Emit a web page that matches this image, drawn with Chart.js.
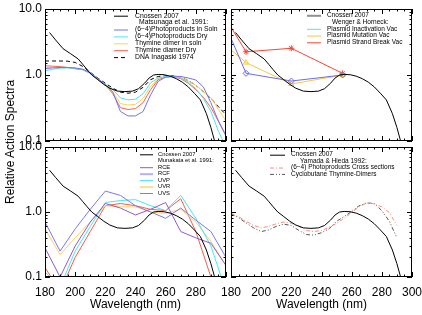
<!DOCTYPE html>
<html lang="en">
<head>
<meta charset="UTF-8">
<title>Relative Action Spectra</title>
<script src="https://cdn.jsdelivr.net/npm/chart.js@4.4.0/dist/chart.umd.min.js"></script>
<style>
  * { margin: 0; padding: 0; box-sizing: border-box; }
  body { width: 422px; height: 315px; background: #fff; position: relative; overflow: hidden;
         font-family: 'Liberation Sans', Arial, Helvetica, sans-serif; }
  canvas { position: absolute; left: 0; top: 0; }
  .title { position: absolute; font-size: 12px; line-height: 12px; color: #000; white-space: nowrap; }
  .xt { top: 298px; width: 181px; text-align: center; }
  .yt { left: 10px; top: 142px; transform: translate(-50%, -50%) rotate(-90deg); }
</style>
</head>
<body>
<canvas id="tl" width="422" height="315"></canvas>
<canvas id="tr" width="422" height="315"></canvas>
<canvas id="bl" width="422" height="315"></canvas>
<canvas id="br" width="422" height="315"></canvas>
<div class="title yt">Relative Action Spectra</div>
<div class="title xt" style="left:45px">Wavelength (nm)</div>
<div class="title xt" style="left:231px">Wavelength (nm)</div>

<script>
// axes
const xTickValues = [180, 200, 220, 240, 260, 280, 300];
const yTickValues = [0.1, 1, 10];
const yTickText = ['0.1', '1.0', '10.0'];

// Cnossen 2007 (in every panel)
const cnossenNm  = [183, 187, 192, 197, 202, 205, 208, 211, 215, 219, 223, 228, 233, 238, 242, 246, 249, 252, 255, 259, 263, 267, 271, 275, 279, 283, 287, 290, 293];
const cnossenVal = [4.4, 3.4, 2.5, 2.1, 1.75, 1.45, 1.2, 1.0, 0.85, 0.72, 0.63, 0.57, 0.56, 0.57, 0.62, 0.75, 0.9, 1.0, 1.02, 1.01, 0.96, 0.88, 0.78, 0.66, 0.53, 0.42, 0.26, 0.16, 0.09];

// Matsunaga et al. 1991 + DNA Inagaski 1974
const matsunagaNm = [180, 185, 190, 195, 200, 205, 210, 215, 220, 225, 230, 235, 240, 245, 250, 255, 260, 265, 270, 275, 280, 285, 290, 295, 300];
const pp64Soln    = [1.25, 1.28, 1.3, 1.3, 1.28, 1.22, 1.08, 0.88, 0.72, 0.55, 0.28, 0.24, 0.24, 0.28, 0.5, 0.8, 0.93, 0.96, 0.95, 0.9, 0.84, 0.66, 0.38, 0.2, 0.12];
const pp64Dry     = [1.16, 1.22, 1.27, 1.28, 1.27, 1.22, 1.08, 0.88, 0.72, 0.6, 0.45, 0.42, 0.43, 0.52, 0.76, 0.9, 0.95, 0.95, 0.9, 0.78, 0.62, 0.44, 0.28, 0.14, 0.08];
const thySoln     = [1.3, 1.3, 1.3, 1.3, 1.27, 1.22, 1.08, 0.88, 0.7, 0.55, 0.37, 0.35, 0.36, 0.44, 0.67, 0.88, 0.95, 0.95, 0.92, 0.82, 0.7, 0.56, 0.45, 0.3, 0.2];
const thyDry      = [1.38, 1.36, 1.34, 1.3, 1.24, 1.2, 1.06, 0.86, 0.7, 0.52, 0.32, 0.3, 0.31, 0.38, 0.6, 0.85, 0.93, 0.94, 0.88, 0.75, 0.6, 0.46, 0.32, 0.2, 0.12];
const dnaInagaki  = [1.63, 1.63, 1.63, 1.62, 1.55, 1.35, 1.1, 0.9, 0.75, 0.63, 0.55, 0.53, 0.55, 0.65, 0.85, 0.95, 0.97, 0.97, 0.93, 0.82, 0.7, 0.56, 0.44, 0.33, 0.25];

// Wenger & Horneck
const wengerNm     = [180, 190, 220, 254];
const plasInact    = [3.6, 1.06, 0.81, 1.0];
const plasMutation = [2.4, 1.54, 0.73, 1.0];
const plasStrand   = [5.3, 2.25, 2.54, 1.06];

// Munakata et al. 1991
const munakataNm = [180, 190, 200, 210, 220, 230, 240, 250, 260, 270, 280, 290, 300];
const rce = [0.28, 0.1, 0.3, 0.7, 1.35, 1.15, 0.9, 1.1, 1.4, 0.5, 0.4, 0.33, 0.15];
const rcf = [0.7, 0.25, 0.55, 1.1, 2.1, 1.8, 1.25, 1.0, 0.8, 1.15, 0.75, 0.5, 0.2];
const uvp = [0.12, 0.07, 0.25, 0.6, 1.4, 1.5, 1.55, 1.25, 1.05, 1.8, 0.8, 0.3, 0.06];
const uvr = [0.55, 0.22, 0.4, 0.7, 1.25, 1.2, 1.2, 1.0, 0.95, 1.1, 0.7, 0.35, 0.15];
const uvs = [0.14, 0.06, 0.2, 0.5, 1.25, 1.35, 1.25, 1.1, 1.05, 1.6, 0.5, 0.1, 0.03];

// Yamada & Hieda 1992
const yamadaNm    = [180, 185, 190, 195, 200, 205, 210, 215, 220, 225, 230, 235, 240, 245, 250, 255, 260, 265, 270, 275, 280, 285, 290];
const pp64Cross   = [0.95, 0.85, 0.72, 0.62, 0.57, 0.6, 0.66, 0.7, 0.67, 0.6, 0.52, 0.5, 0.52, 0.58, 0.67, 0.8, 0.98, 1.2, 1.38, 1.33, 1.2, 0.98, 0.62];
const cpdDimers   = [0.95, 0.82, 0.68, 0.57, 0.5, 0.53, 0.6, 0.65, 0.62, 0.52, 0.45, 0.44, 0.48, 0.55, 0.72, 0.85, 1.02, 1.25, 1.38, 1.35, 1.05, 0.72, 0.4];

const pts = (xs, ys) => xs.map((x, i) => ({ x, y: ys[i] }));
const FONT = "'Liberation Sans', Arial, Helvetica, sans-serif";

function line(label, xs, ys, color, extra) {
  return Object.assign({
    label, data: pts(xs, ys), borderColor: color, backgroundColor: color,
    borderWidth: 1, pointRadius: 0, tension: 0, fill: false
  }, extra || {});
}
const cnossen = (extra) => line('Cnossen 2007', cnossenNm, cnossenVal, '#000', extra);

// frame, inward ticks and the small legend
const panelDeco = {
  id: 'panelDeco',
  afterDatasetsDraw(chart, args, opts) {
    const { ctx, chartArea: a, scales: { x, y } } = chart;
    ctx.save();
    ctx.strokeStyle = '#000';
    ctx.lineWidth = 1;
    ctx.strokeRect(a.left + 0.5, a.top + 0.5, a.right - a.left - 1, a.bottom - a.top - 1);
    ctx.beginPath();
    for (let v = x.min; v <= x.max; v += 5) {
      const px = Math.round(x.getPixelForValue(v)) + 0.5;
      const len = (v % 20 === 0) ? 5 : 2.5;
      ctx.moveTo(px, a.bottom); ctx.lineTo(px, a.bottom - len);
      ctx.moveTo(px, a.top); ctx.lineTo(px, a.top + len);
    }
    y.ticks.forEach(t => {
      const py = Math.round(y.getPixelForValue(t.value)) + 0.5;
      const major = yTickValues.some(d => Math.abs(d - t.value) / d < 1e-6);
      const len = major ? 5 : 2.5;
      ctx.moveTo(a.left, py); ctx.lineTo(a.left + len, py);
      ctx.moveTo(a.right, py); ctx.lineTo(a.right - len, py);
    });
    ctx.stroke();

    // legend
    const ds = chart.data.datasets;
    const rows = [ds[0], { header: opts.header }].concat(ds.slice(1));
    ctx.font = opts.fontSize + 'px ' + FONT;
    ctx.textBaseline = 'middle';
    ctx.fillStyle = '#000';
    rows.forEach((r, i) => {
      const ry = opts.y + i * opts.step;
      if (r.header) {
        ctx.fillText(r.header, opts.textX + opts.indent, ry);
        return;
      }
      ctx.beginPath();
      ctx.strokeStyle = r.legendColor || r.borderColor;
      ctx.lineWidth = r.legendWidth || 1;
      ctx.setLineDash(r.borderDash || []);
      ctx.moveTo(opts.lineX, ry + 0.5);
      ctx.lineTo(opts.lineX + opts.lineLen, ry + 0.5);
      ctx.stroke();
      ctx.setLineDash([]);
      ctx.fillText(r.label, opts.textX, ry);
    });
    ctx.restore();
  }
};

// rect = [left, top, right, bottom] of the plot area in page pixels
function panel(id, rect, datasets, showX, showY, legend) {
  new Chart(document.getElementById(id), {
    type: 'line',
    data: { datasets },
    plugins: [panelDeco],
    options: {
      responsive: false,
      animation: false,
      devicePixelRatio: 1,
      layout: { padding: { left: 0, top: rect[1], right: 422 - rect[2], bottom: 0 } },
      plugins: { legend: { display: false }, tooltip: { enabled: false }, panelDeco: legend },
      scales: {
        x: {
          type: 'linear', min: 180, max: 300,
          grid: { display: false, drawTicks: false }, border: { display: false },
          afterBuildTicks: s => { s.ticks = xTickValues.map(v => ({ value: v })); },
          afterFit: s => { s.height = 315 - rect[3]; s.paddingLeft = 0; s.paddingRight = 0; },
          ticks: {
            display: showX, autoSkip: false, maxRotation: 0, padding: 8, color: '#000',
            font: { family: FONT, size: 12 },
            callback: v => (id === 'bl' && v === 300) ? '' : String(v)
          }
        },
        y: {
          type: 'logarithmic', min: 0.1, max: 10,
          grid: { display: false, drawTicks: false }, border: { display: false },
          afterFit: s => { s.width = rect[0]; s.paddingTop = 0; s.paddingBottom = 0; },
          ticks: {
            display: showY, autoSkip: false, padding: 3, color: '#000',
            font: { family: FONT, size: 12 },
            callback: v => {
              const k = yTickValues.findIndex(d => Math.abs(d - v) / d < 1e-6);
              return k < 0 ? '' : yTickText[k];
            }
          }
        }
      }
    }
  });
}

panel('tl', [45, 9, 226, 141], [
  cnossen(),
  line('(6\u22124)Photoproducts in Soln', matsunagaNm, pp64Soln, '#7272f2'),
  line('(6\u22124)Photoproducts Dry', matsunagaNm, pp64Dry, '#48e6f0'),
  line('Thymine dimer in soln', matsunagaNm, thySoln, '#ffd24e'),
  line('Thymine diamer Dry', matsunagaNm, thyDry, '#ff5e4e'),
  line('DNA Inagaski 1974', matsunagaNm, dnaInagaki, '#000', { borderDash: [4, 3] })
], false, true, { header: 'Matsunaga et al. 1991:', y: 15.7, step: 6.9, lineX: 114, lineLen: 14, textX: 135, indent: 4, fontSize: 6.8 });

panel('tr', [231, 9, 412, 141], [
  cnossen({ legendColor: '#909090', legendWidth: 2 }),
  line('Plasmid Inactivation Vac', wengerNm, plasInact, '#6a6af5', {
    legendColor: '#48e6f0', pointRadius: [0, 3, 3, 3], pointStyle: 'rectRot', pointBackgroundColor: 'rgba(0,0,0,0)' }),
  line('Plasmid Mutation Vac', wengerNm, plasMutation, '#f7c83e', {
    pointRadius: [0, 3, 3, 3], pointStyle: 'triangle', pointBackgroundColor: 'rgba(0,0,0,0)' }),
  line('Plasmid Strand Break Vac', wengerNm, plasStrand, '#ff4433', {
    pointRadius: [0, 3, 3, 3], pointStyle: 'star' })
], false, false, { header: 'Wenger & Horneck:', y: 15.3, step: 6.75, lineX: 307, lineLen: 14, textX: 327, indent: 5, fontSize: 6.5 });

panel('bl', [45, 147, 226, 277], [
  cnossen(),
  line('RCE', munakataNm, rce, '#8f5ad2'),
  line('RCF', munakataNm, rcf, '#7878f2', { legendColor: '#b4b0ff', legendWidth: 2 }),
  line('UVP', munakataNm, uvp, '#40eaf2'),
  line('UVR', munakataNm, uvr, '#ffd066', { legendColor: '#ffe08a', legendWidth: 2 }),
  line('UVS', munakataNm, uvs, '#ff5a48')
], true, true, { header: 'Munakata et al. 1991:', y: 154.3, step: 6.45, lineX: 140, lineLen: 13, textX: 158, indent: 0, fontSize: 5.8 });

panel('br', [231, 147, 412, 277], [
  cnossen(),
  line('(6\u22124) Photoproducts Cross sections', yamadaNm, pp64Cross, '#ff8a7c', { borderDash: [4, 2, 1, 2] }),
  line('Cyclobutane Thymine-Dimers', yamadaNm, cpdDimers, '#555', { borderDash: [4, 2, 1, 2, 1, 2] })
], true, false, { header: 'Yamada & Hieda 1992:', y: 154.7, step: 6.4, lineX: 270, lineLen: 15, textX: 291, indent: 9, fontSize: 6.5 });
</script>
</body>
</html>
